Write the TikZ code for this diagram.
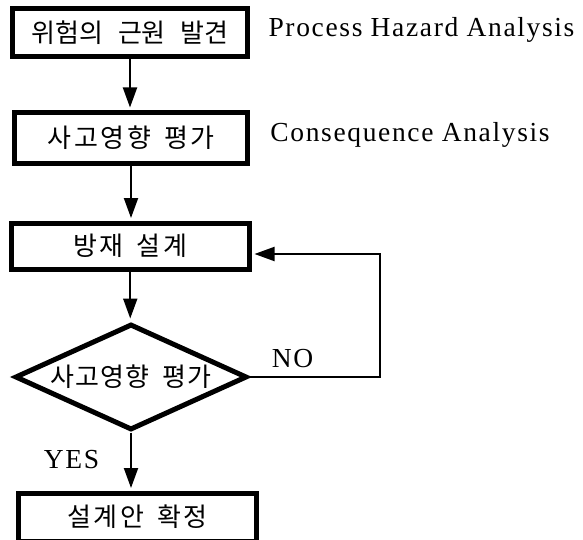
\documentclass[tikz,border=0pt]{standalone}
\usepackage{fontspec}
\setmainfont{Liberation Serif}
\newfontfamily\kr{Noto Sans CJK KR}
\newfontfamily\en[LetterSpace=6]{Liberation Serif}
\usetikzlibrary{arrows.meta,shapes.geometric}
\begin{document}
\begin{tikzpicture}[x=1pt,y=-1pt,
  box/.style={draw, line width=5pt, inner sep=0pt, font=\kr\fontsize{26}{26}\selectfont},
  decision/.style={draw, shape=diamond, line width=5pt, line join=miter, inner sep=0pt, shape aspect=2.2, font=\kr\fontsize{26}{26}\selectfont},
  conn/.style={line width=2pt, -{Triangle[length=20pt,width=14pt]}, shorten >=2.5pt},
  etext/.style={font=\en\fontsize{27.5}{27.5}\selectfont, anchor=base},
]
\useasboundingbox (0,0) rectangle (583,540);
\clip (0,0) rectangle (583,540);
\node[box, minimum width=235.5pt, minimum height=48pt] (b1) at (130,33) {위험의\hspace{0.55em}근원\hspace{0.55em}발견};
\node[box, minimum width=233pt, minimum height=51pt] (b2) at (131,138) {\addfontfeature{LetterSpace=10}사고영향\hspace{0.5em}평가};
\node[box, minimum width=238.5pt, minimum height=46pt] (b3) at (130.25,246) {\addfontfeature{LetterSpace=10}방재\hspace{0.5em}설계};
\node[decision, minimum width=232pt, minimum height=106pt] (d) at (131,377) {\addfontfeature{LetterSpace=4}사고영향\hspace{0.5em}평가};
\node[box, minimum width=238pt, minimum height=48pt] (b4) at (137.5,517) {\addfontfeature{LetterSpace=10}설계안\hspace{0.5em}확정};

\node[etext] (t1) at (421.5,37) {Process\hspace{0.3em}Hazard\hspace{0.3em}Analysis};
\node[etext] (t2) at (410,142) {Consequence\hspace{0.3em}Analysis};
\node[etext] (no) at (292.5,367) {NO};
\node[etext] (yes) at (71.5,468) {YES};

\coordinate (loop) at (380,254);
\draw[conn] (b1.south) -- (b1.south |- b2.north);
\draw[conn] (b2.south) -- (b2.south |- b3.north);
\draw[conn, shorten >=3pt] (b3.south) -- (b3.south |- d.north);
\draw[conn] (d.east) -| (loop) -- (loop -| b3.east);
\draw[conn] (d.south) -- (d.south |- b4.north);
\end{tikzpicture}
\end{document}
